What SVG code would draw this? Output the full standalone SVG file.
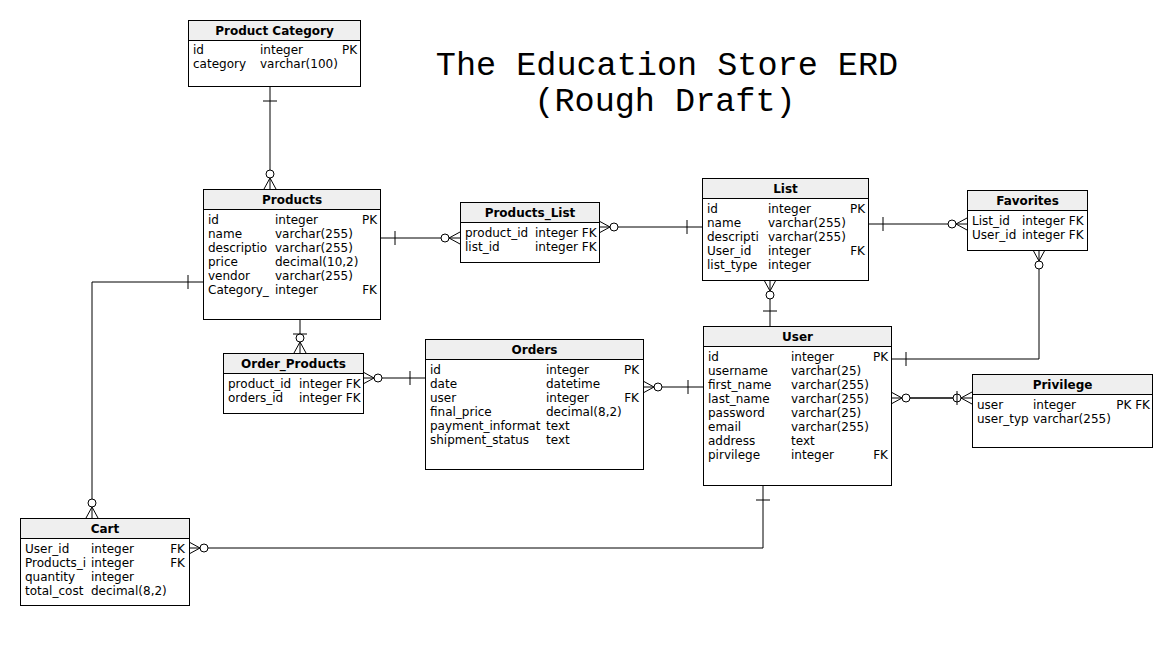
<svg xmlns="http://www.w3.org/2000/svg" width="1172" height="665" viewBox="0 0 1172 665">
<style>
  .box { fill:#ffffff; stroke:#000000; stroke-width:1; }
  .hdr { fill:#efefef; stroke:#000000; stroke-width:1; }
  .t { font-family:"DejaVu Sans", sans-serif; font-size:12px; fill:#000000; }
  .h { font-family:"DejaVu Sans", sans-serif; font-size:12px; font-weight:bold; fill:#000000; text-anchor:middle; }
  .r { text-anchor:end; }
  .title { font-family:"Liberation Mono", "Courier New", monospace; font-size:33.5px; fill:#000000; text-anchor:middle; }
  .edge { fill:none; stroke:#000000; stroke-width:1; }
  .mk line, .mk path { fill:none; stroke:#000000; stroke-width:1; }
  .mk circle { fill:#ffffff; stroke:#000000; stroke-width:1; }
</style>
<defs>
  <marker id="one" class="mk" markerUnits="userSpaceOnUse" viewBox="-22 -10 24 20" refX="0" refY="0" markerWidth="24" markerHeight="20" orient="auto-start-reverse" overflow="visible">
    <line x1="-15" y1="-7" x2="-15" y2="7"/>
  </marker>
  <marker id="zm" class="mk" markerUnits="userSpaceOnUse" viewBox="-22 -10 24 20" refX="0" refY="0" markerWidth="24" markerHeight="20" orient="auto-start-reverse" overflow="visible">
    <path d="M0,-6 L-11,0 L0,6"/>
    <circle cx="-15" cy="0" r="4"/>
  </marker>
  <marker id="zmo" class="mk" markerUnits="userSpaceOnUse" viewBox="-22 -10 24 20" refX="0" refY="0" markerWidth="24" markerHeight="20" orient="auto-start-reverse" overflow="visible">
    <path d="M0,-6 L-11,0 L0,6"/>
    <circle cx="-15" cy="0" r="4"/>
    <line x1="-15" y1="-7" x2="-15" y2="7"/>
  </marker>
</defs>

<rect x="0" y="0" width="1172" height="665" fill="#ffffff"/>

<g id="title">
  <text class="title" x="667" y="75">The Education Store ERD</text>
  <text class="title" x="665" y="111">(Rough Draft)</text>
</g>

<g id="connectors">
  <path class="edge" d="M270,86 V189" marker-start="url(#one)" marker-end="url(#zm)"/>
  <path class="edge" d="M380,238 H460" marker-start="url(#one)" marker-end="url(#zm)"/>
  <path class="edge" d="M702,227 H599" marker-start="url(#one)" marker-end="url(#zm)"/>
  <path class="edge" d="M868,224 H967" marker-start="url(#one)" marker-end="url(#zm)"/>
  <path class="edge" d="M770,326 V280" marker-start="url(#one)" marker-end="url(#zm)"/>
  <path class="edge" d="M891,359 H1039 V250" marker-start="url(#one)" marker-end="url(#zm)"/>
  <path class="edge" d="M300,319 V353" marker-start="url(#one)" marker-end="url(#zm)"/>
  <path class="edge" d="M425,378 H363" marker-start="url(#one)" marker-end="url(#zm)"/>
  <path class="edge" d="M703,387 H643" marker-start="url(#one)" marker-end="url(#zm)"/>
  <path class="edge" d="M906,398 H957" stroke-width="3"/>
  <path class="edge" d="M891,398 H972" marker-start="url(#zm)" marker-end="url(#zmo)"/>
  <path class="edge" d="M203,282 H92 V518" marker-start="url(#one)" marker-end="url(#zm)"/>
  <path class="edge" d="M763,485 V548 H189" marker-start="url(#one)" marker-end="url(#zm)"/>
</g>

<g id="product_category">
  <rect class="box" x="188.5" y="20.5" width="172" height="66"/>
  <rect class="hdr" x="188.5" y="20.5" width="172" height="20"/>
  <text class="h" x="274.5" y="35">Product Category</text>
  <text class="t" x="193" y="54">id</text><text class="t" x="260" y="54">integer</text><text class="t r" x="357" y="54">PK</text>
  <text class="t" x="193" y="68">category</text><text class="t" x="260" y="68">varchar(100)</text>
</g>

<g id="products">
  <rect class="box" x="203.5" y="189.5" width="177" height="130"/>
  <rect class="hdr" x="203.5" y="189.5" width="177" height="20"/>
  <text class="h" x="292" y="204">Products</text>
  <text class="t" x="208" y="224">id</text><text class="t" x="275" y="224">integer</text><text class="t r" x="377" y="224">PK</text>
  <text class="t" x="208" y="238">name</text><text class="t" x="275" y="238">varchar(255)</text>
  <text class="t" x="208" y="252">descriptio</text><text class="t" x="275" y="252">varchar(255)</text>
  <text class="t" x="208" y="266">price</text><text class="t" x="275" y="266">decimal(10,2)</text>
  <text class="t" x="208" y="280">vendor</text><text class="t" x="275" y="280">varchar(255)</text>
  <text class="t" x="208" y="294">Category_</text><text class="t" x="275" y="294">integer</text><text class="t r" x="377" y="294">FK</text>
</g>

<g id="products_list">
  <rect class="box" x="460.5" y="202.5" width="139" height="60"/>
  <rect class="hdr" x="460.5" y="202.5" width="139" height="20"/>
  <text class="h" x="530" y="217">Products_List</text>
  <text class="t" x="465" y="237">product_id</text><text class="t" x="535" y="237">integer FK</text>
  <text class="t" x="465" y="251">list_id</text><text class="t" x="535" y="251">integer FK</text>
</g>

<g id="list">
  <rect class="box" x="702.5" y="178.5" width="166" height="102"/>
  <rect class="hdr" x="702.5" y="178.5" width="166" height="20"/>
  <text class="h" x="785.5" y="193">List</text>
  <text class="t" x="707" y="213">id</text><text class="t" x="768" y="213">integer</text><text class="t r" x="865" y="213">PK</text>
  <text class="t" x="707" y="227">name</text><text class="t" x="768" y="227">varchar(255)</text>
  <text class="t" x="707" y="241">descripti</text><text class="t" x="768" y="241">varchar(255)</text>
  <text class="t" x="707" y="255">User_id</text><text class="t" x="768" y="255">integer</text><text class="t r" x="865" y="255">FK</text>
  <text class="t" x="707" y="269">list_type</text><text class="t" x="768" y="269">integer</text>
</g>

<g id="favorites">
  <rect class="box" x="967.5" y="190.5" width="120" height="60"/>
  <rect class="hdr" x="967.5" y="190.5" width="120" height="20"/>
  <text class="h" x="1027.5" y="205">Favorites</text>
  <text class="t" x="972" y="225">List_id</text><text class="t" x="1022" y="225">integer FK</text>
  <text class="t" x="972" y="239">User_id</text><text class="t" x="1022" y="239">integer FK</text>
</g>

<g id="order_products">
  <rect class="box" x="223.5" y="353.5" width="140" height="60"/>
  <rect class="hdr" x="223.5" y="353.5" width="140" height="20"/>
  <text class="h" x="293.5" y="368">Order_Products</text>
  <text class="t" x="228" y="388">product_id</text><text class="t" x="299" y="388">integer FK</text>
  <text class="t" x="228" y="402">orders_id</text><text class="t" x="299" y="402">integer FK</text>
</g>

<g id="orders">
  <rect class="box" x="425.5" y="339.5" width="218" height="130"/>
  <rect class="hdr" x="425.5" y="339.5" width="218" height="20"/>
  <text class="h" x="534.5" y="354">Orders</text>
  <text class="t" x="430" y="374">id</text><text class="t" x="546" y="374">integer</text><text class="t r" x="639" y="374">PK</text>
  <text class="t" x="430" y="388">date</text><text class="t" x="546" y="388">datetime</text>
  <text class="t" x="430" y="402">user</text><text class="t" x="546" y="402">integer</text><text class="t r" x="639" y="402">FK</text>
  <text class="t" x="430" y="416">final_price</text><text class="t" x="546" y="416">decimal(8,2)</text>
  <text class="t" x="430" y="430">payment_informat</text><text class="t" x="546" y="430">text</text>
  <text class="t" x="430" y="444">shipment_status</text><text class="t" x="546" y="444">text</text>
</g>

<g id="user">
  <rect class="box" x="703.5" y="326.5" width="188" height="159"/>
  <rect class="hdr" x="703.5" y="326.5" width="188" height="20"/>
  <text class="h" x="797.5" y="341">User</text>
  <text class="t" x="708" y="361">id</text><text class="t" x="791" y="361">integer</text><text class="t r" x="888" y="361">PK</text>
  <text class="t" x="708" y="375">username</text><text class="t" x="791" y="375">varchar(25)</text>
  <text class="t" x="708" y="389">first_name</text><text class="t" x="791" y="389">varchar(255)</text>
  <text class="t" x="708" y="403">last_name</text><text class="t" x="791" y="403">varchar(255)</text>
  <text class="t" x="708" y="417">password</text><text class="t" x="791" y="417">varchar(25)</text>
  <text class="t" x="708" y="431">email</text><text class="t" x="791" y="431">varchar(255)</text>
  <text class="t" x="708" y="445">address</text><text class="t" x="791" y="445">text</text>
  <text class="t" x="708" y="459">pirvilege</text><text class="t" x="791" y="459">integer</text><text class="t r" x="888" y="459">FK</text>
</g>

<g id="privilege">
  <rect class="box" x="972.5" y="374.5" width="180" height="73"/>
  <rect class="hdr" x="972.5" y="374.5" width="180" height="20"/>
  <text class="h" x="1062.5" y="389">Privilege</text>
  <text class="t" x="977" y="409">user</text><text class="t" x="1033" y="409">integer</text><text class="t r" x="1150" y="409">PK FK</text>
  <text class="t" x="977" y="423">user_typ</text><text class="t" x="1033" y="423">varchar(255)</text>
</g>

<g id="cart">
  <rect class="box" x="20.5" y="518.5" width="169" height="87"/>
  <rect class="hdr" x="20.5" y="518.5" width="169" height="20"/>
  <text class="h" x="105" y="533">Cart</text>
  <text class="t" x="25" y="553">User_id</text><text class="t" x="91" y="553">integer</text><text class="t r" x="185" y="553">FK</text>
  <text class="t" x="25" y="567">Products_i</text><text class="t" x="91" y="567">integer</text><text class="t r" x="185" y="567">FK</text>
  <text class="t" x="25" y="581">quantity</text><text class="t" x="91" y="581">integer</text>
  <text class="t" x="25" y="595">total_cost</text><text class="t" x="91" y="595">decimal(8,2)</text>
</g>
</svg>
